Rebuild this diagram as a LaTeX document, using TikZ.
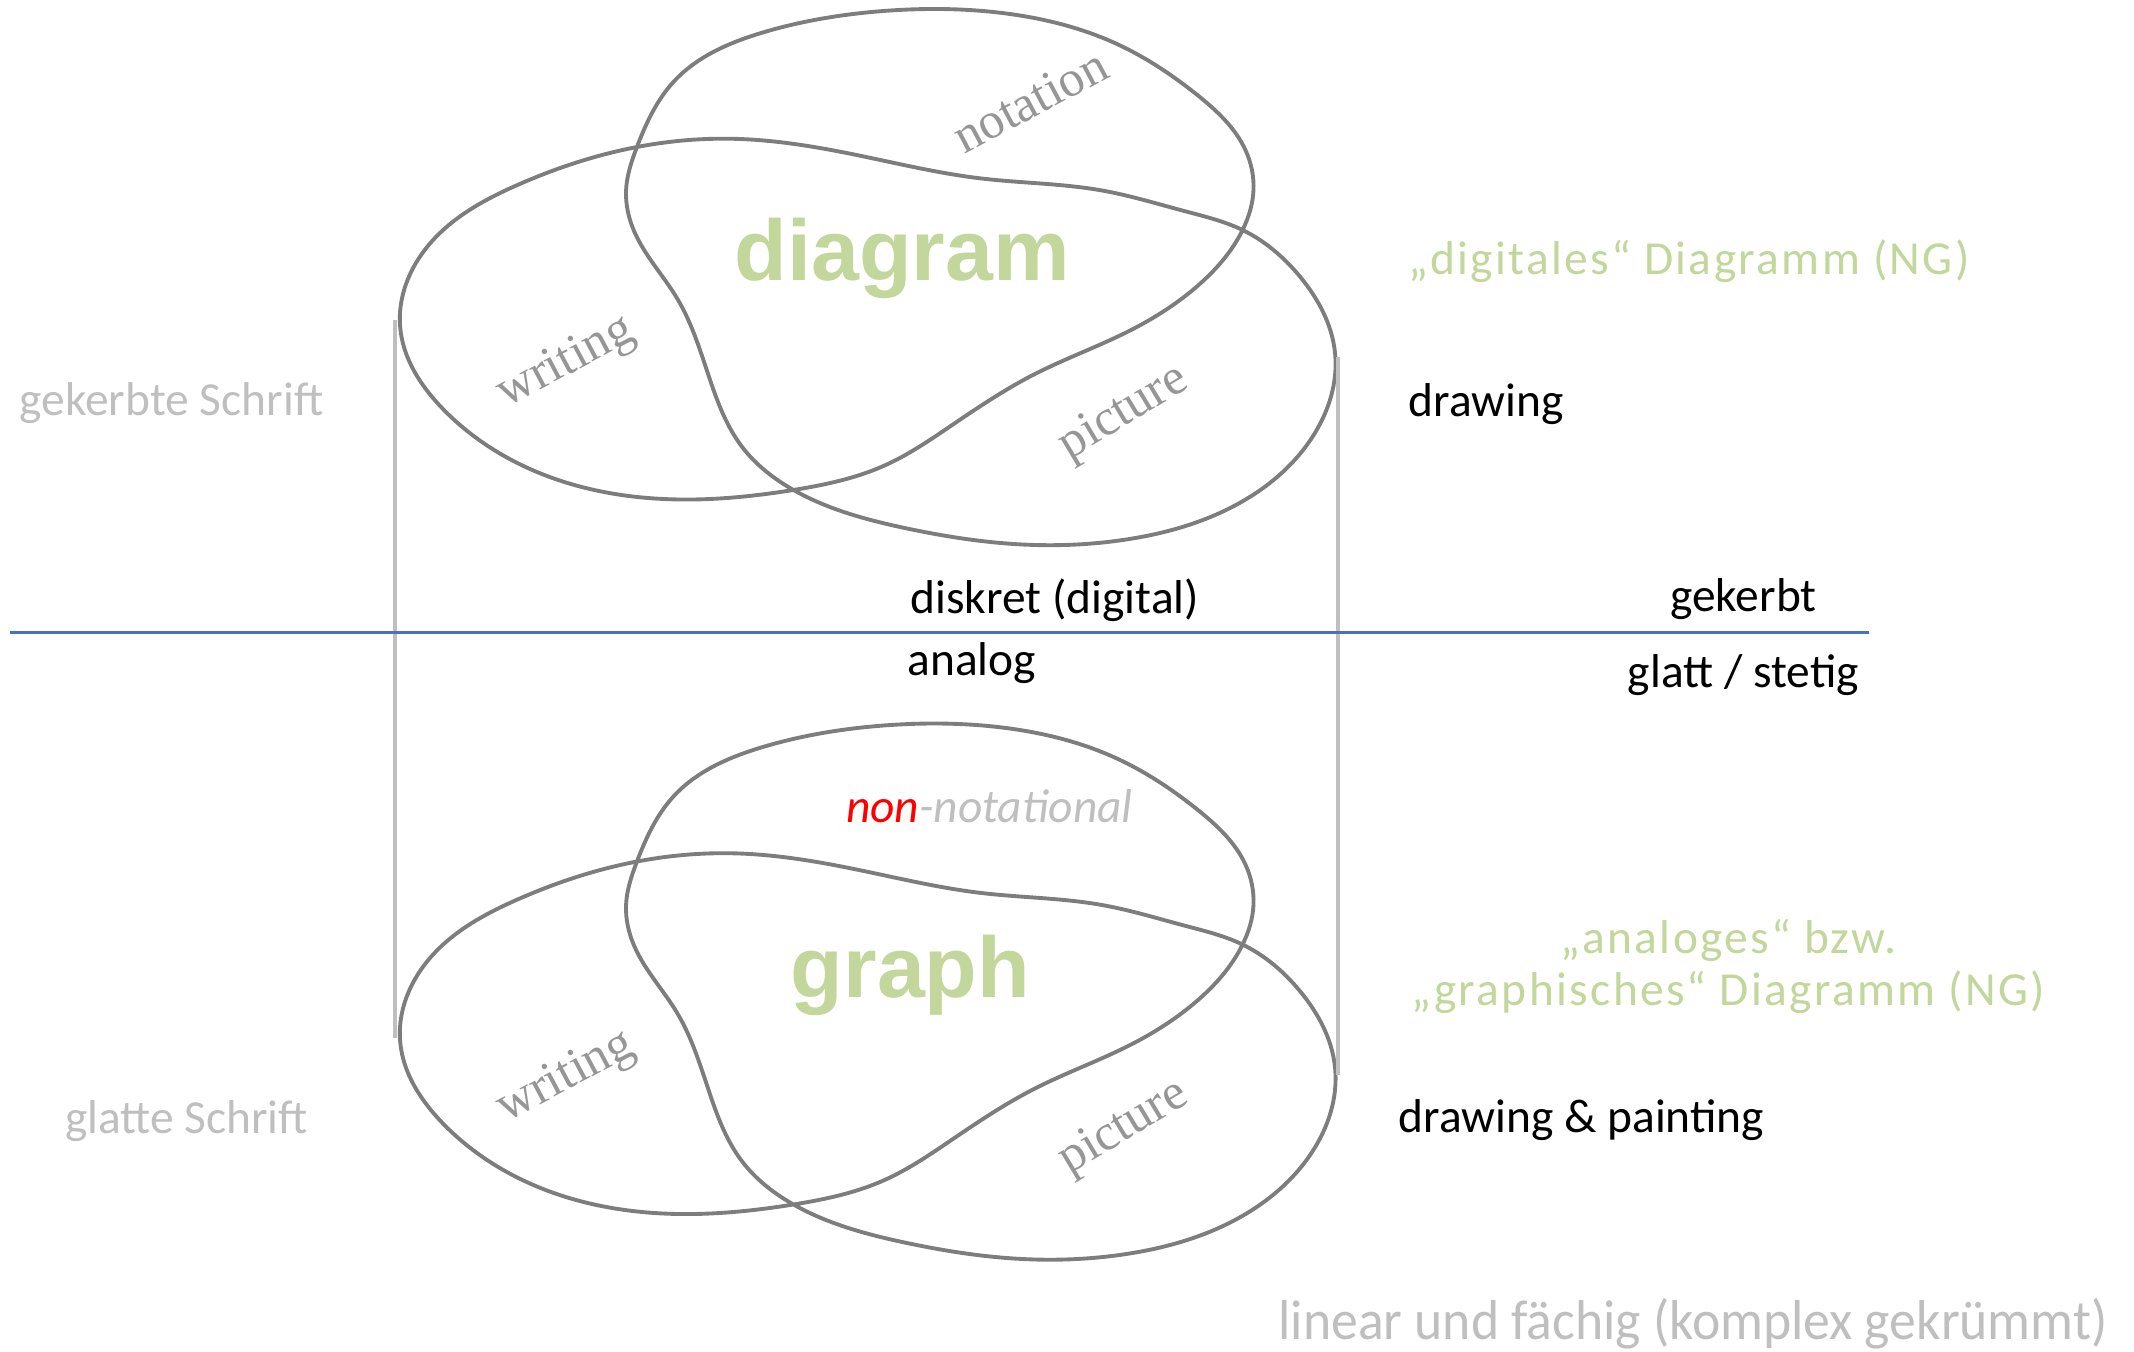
\documentclass[tikz,border=0pt]{standalone}
\usepackage{fontspec}
\usetikzlibrary{hobby}
\setmainfont{Carlito}
\newfontfamily\boldsans{Liberation Sans}
\newfontfamily\vennserif{Liberation Serif}
\newfontfamily\spacedfont[LetterSpace=5]{Carlito}

\definecolor{vennline}{RGB}{125,125,125}
\definecolor{venntext}{RGB}{150,150,150}
\definecolor{lightgrey}{RGB}{191,191,191}
\definecolor{leafgreen}{RGB}{195,214,155}
\definecolor{axisblue}{RGB}{68,114,196}

\begin{document}
\begin{tikzpicture}[x=0.01361cm,y=-0.01361cm,
  venn/.style={draw=vennline,line width=1.1pt},
  venn label/.style={font=\vennserif\fontsize{14.5}{16}\selectfont,text=venntext,inner sep=0pt},
  big label/.style={font=\boldsans\bfseries\fontsize{24.5}{28}\selectfont,text=leafgreen,inner sep=0pt},
  plain label/.style={font=\fontsize{13.5}{16}\selectfont,inner sep=0pt},
  grey label/.style={plain label,text=lightgrey},
  ng label/.style={font=\spacedfont\fontsize{13.5}{14.7}\selectfont,text=leafgreen,inner sep=0pt,align=center},
  side line/.style={draw=lightgrey,line width=1.2pt},
  axis/.style={draw=axisblue,line width=0.8pt}]

  \useasboundingbox (0,0) rectangle (1568,993);

  % the two trefoil shapes, the lower one is the same shape moved down
  \foreach \dy in {0,525} {
    \draw[venn,shift={(0,\dy)}] plot[closed hobby] coordinates {
      (583,360) (500,367) (400,349) (325,300) (294,240) (315,180) (380,136)
      (468,108) (540,102) (630,114) (720,131) (810,140) (870,155) (913,169)
      (955,203) (981,260) (965,320) (910,370) (830,396) (750,400) (665,388)
      (583,360) (545,328) (522,280) (498,220) (466,170) (460,140) (468,108)
      (495,60) (560,24) (650,8) (740,10) (820,32) (880,70) (915,110)
      (921,140) (913,169) (880,210) (830,243) (760,275) (700,312) (650,342)};
  }

  % upper diagram
  \node[big label] (diagram) at (663,190) {diagram};
  \node[venn label,rotate=28] (writingA) at (416,267) {writing};
  \node[venn label,rotate=28] (notation) at (757,74) {notation};
  \node[venn label,rotate=31] (pictureA) at (826,304) {picture};

  % lower diagram
  \node[big label] (graph) at (669,717) {graph};
  \node[venn label,rotate=28] (writingB) at (416,792) {writing};
  \node[venn label,rotate=31] (pictureB) at (826,829) {picture};
  \node[plain label,font=\itshape\fontsize{13.5}{16}\selectfont,text=lightgrey] (nonnot) at (727,592)
    {\textcolor{red}{non}-notational};

  % side texts
  \node[grey label] (gekerbteS) at (126,296) {gekerbte Schrift};
  \node[grey label] (glatteS) at (137,824) {glatte Schrift};
  \node[plain label] (drawing) at (1092,297) {drawing};
  \node[plain label] (painting) at (1162,823) {drawing \& painting};
  \node[plain label] (diskret) at (775,441) {diskret (digital)};
  \node[plain label] (analog) at (714,487) {analog};
  \node[plain label] (gekerbt) at (1281,440) {gekerbt};
  \node[plain label] (glatt) at (1281,496) {glatt / stetig};
  \node[ng label] (digitalNG) at (1241,192) {„digitales“ Diagramm (NG)};
  \node[ng label] (analogNG) at (1270,710) {„analoges“ bzw.\\„graphisches“ Diagramm (NG)};
  \node[grey label,font=\fontsize{16}{18}\selectfont,xscale=0.955,anchor=base] (linear) at (1244,984)
    {linear und fächig (komplex gekrümmt)};

  % lines
  \coordinate (leftTop) at (290,235);
  \coordinate (leftBot) at (290,763);
  \coordinate (rightTop) at (983,262);
  \coordinate (rightBot) at (983,790);
  \coordinate (axisW) at (7,465);
  \coordinate (axisE) at (1373,465);
  \draw[side line] (leftTop) -- (leftBot);
  \draw[side line] (rightTop) -- (rightBot);
  \draw[axis] (axisW) -- (axisE);
\end{tikzpicture}
\end{document}
